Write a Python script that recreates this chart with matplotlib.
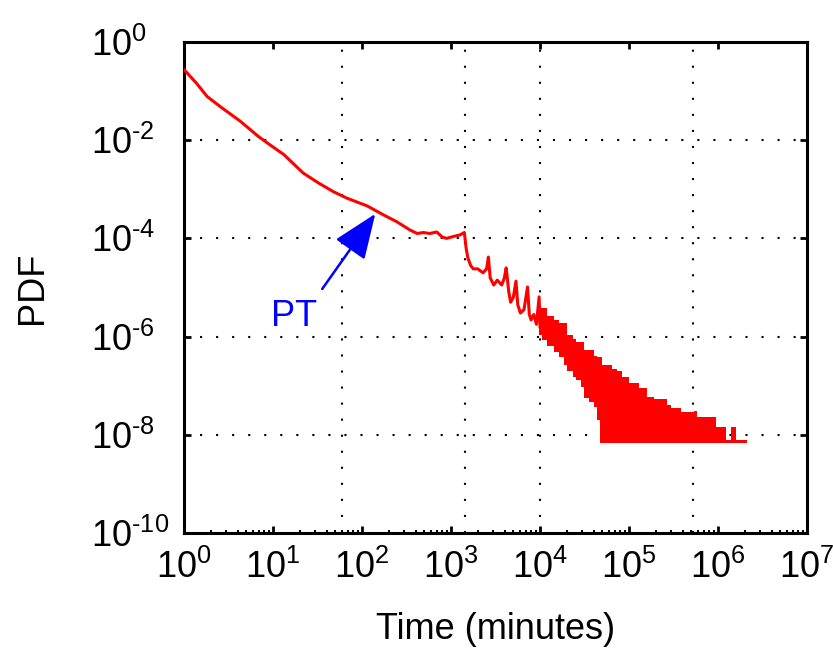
import numpy as np
import matplotlib
matplotlib.use("Agg")
import matplotlib.pyplot as plt
from matplotlib.ticker import FixedLocator, FuncFormatter, LogLocator, NullFormatter, NullLocator

plt.rcParams['font.family'] = ['Liberation Sans', 'DejaVu Sans']
plt.rcParams['mathtext.fontset'] = 'custom'
plt.rcParams['mathtext.rm'] = 'Liberation Sans'
plt.rcParams['mathtext.it'] = 'Liberation Sans'
plt.rcParams['mathtext.bf'] = 'Liberation Sans'

# ---- data (as log10 values) ----
line_log_t = [0.00, 0.02, 0.14, 0.26, 0.41, 0.63, 0.84, 0.97, 1.12, 1.34, 1.51, 1.68,
              1.83, 2.06, 2.24, 2.39, 2.54, 2.62, 2.69, 2.76, 2.84, 2.90, 2.95, 3.03,
              3.10, 3.15, 3.17, 3.19, 3.22, 3.25, 3.30, 3.36, 3.40, 3.42, 3.44, 3.48,
              3.52, 3.57, 3.60, 3.62, 3.65, 3.67, 3.70, 3.73, 3.75, 3.78, 3.82, 3.86,
              3.88, 3.90, 3.93, 3.96, 3.99, 4.00]
line_log_pdf = [-0.57, -0.60, -0.84, -1.11, -1.32, -1.61, -1.93, -2.10, -2.29, -2.67, -2.87, -3.05,
                -3.18, -3.34, -3.52, -3.66, -3.83, -3.90, -3.88, -3.90, -3.87, -3.97, -4.00, -3.96,
                -3.93, -3.88, -4.20, -4.40, -4.55, -4.62, -4.62, -4.70, -4.62, -4.38, -4.80, -4.95,
                -4.85, -4.95, -4.80, -4.60, -5.10, -5.30, -5.20, -4.87, -5.35, -5.52, -5.45, -4.99,
                -5.55, -5.66, -5.55, -5.75, -5.19, -5.80]

# dense tail: envelope of the oscillating curve
env_log_t = [3.986, 4.020, 4.080, 4.155, 4.211, 4.274, 4.305, 4.372, 4.409, 4.460,
             4.492, 4.550, 4.604, 4.642, 4.670, 4.698, 4.811, 4.867, 4.923, 4.998,
             5.110, 5.205, 5.279, 5.430, 5.467, 5.579, 5.729, 5.767, 5.973, 6.085,
             6.150, 6.198, 6.330]
env_log_upper = [-5.42, -5.42, -5.59, -5.66, -5.73, -5.72, -5.97, -6.04, -6.10, -6.10,
                 -6.27, -6.27, -6.40, -6.41, -6.41, -6.58, -6.65, -6.71, -6.82, -6.95,
                 -7.05, -7.22, -7.28, -7.39, -7.46, -7.53, -7.52, -7.63, -7.84, -8.11,
                 -7.84, -8.11, -8.11]
env_log_lower = [-5.97, -6.07, -6.20, -6.31, -6.41, -6.58, -6.71, -6.82, -6.88, -7.02,
                 -7.26, -7.33, -7.43, -7.70, -8.17, -8.17, -8.17, -8.17, -8.17, -8.17,
                 -8.17, -8.17, -8.17, -8.17, -8.17, -8.17, -8.17, -8.17, -8.17, -8.17,
                 -8.17, -8.17, -8.17]

grid_x = [60, 1440, 10080, 525600]          # hour, day, week, year (minutes)
grid_y = [1e-2, 1e-4, 1e-6, 1e-8]
x_ticks = [10.0 ** k for k in range(0, 8)]
y_ticks = [10.0 ** k for k in range(-10, 1, 2)]

arrow_tip = (141, 10 ** -3.50)
arrow_tail = (35.7, 10 ** -5.03)
label_pos = (17.3, 10 ** -5.78)
label_text = "PT"

# ---- figure ----
fig = plt.figure(figsize=(8.33, 6.54), dpi=100)
ax = fig.add_axes([184 / 833, 1 - 533 / 654, (807 - 184) / 833, (533 - 42) / 654])
ax.set_xscale('log')
ax.set_yscale('log')
ax.set_xlim(1, 1e7)
ax.set_ylim(1e-10, 1)

dot = (0, (1, 6.7))
for gx in grid_x:
    ax.axvline(gx, color='black', lw=1.5, linestyle=dot, dash_capstyle='butt', zorder=1)
for gy in grid_y:
    ax.axhline(gy, color='black', lw=1.5, linestyle=dot, dash_capstyle='butt', zorder=1)

ax.plot(10.0 ** np.array(line_log_t), 10.0 ** np.array(line_log_pdf), color='red', lw=2.2, zorder=3)
ax.fill_between(10.0 ** np.array(env_log_t), 10.0 ** np.array(env_log_lower),
                10.0 ** np.array(env_log_upper), step='post', color='red', lw=0, zorder=3)

ax.annotate('', xy=arrow_tip, xytext=arrow_tail,
            arrowprops=dict(arrowstyle='-|>,head_length=1.0,head_width=0.4', mutation_scale=28,
                            color='blue', lw=1.8, shrinkA=0, shrinkB=0), zorder=4)
ax.text(label_pos[0], label_pos[1], label_text, color='blue', fontsize=26,
        ha='center', va='baseline', zorder=4)


def fmt(v, pos):
    e = int(round(np.log10(v)))
    s = (r'\text{-}' + str(-e)) if e < 0 else str(e)
    return r'$\mathregular{10^{%s}}$' % s


ax.xaxis.set_major_locator(FixedLocator(x_ticks))
ax.xaxis.set_minor_locator(LogLocator(base=10, subs=np.arange(2, 10), numticks=20))
ax.xaxis.set_minor_formatter(NullFormatter())
ax.xaxis.set_major_formatter(FuncFormatter(fmt))
ax.yaxis.set_major_locator(FixedLocator(y_ticks))
ax.yaxis.set_minor_locator(NullLocator())
ax.yaxis.set_major_formatter(FuncFormatter(fmt))

ax.tick_params(which='major', direction='in', length=5, width=2, top=True, right=True,
               labelsize=26)
ax.tick_params(which='minor', direction='in', length=2.5, width=1.5, top=False, right=False)
ax.tick_params(axis='x', which='major', pad=12)
ax.tick_params(axis='y', which='major', pad=67)
for lbl in ax.get_yticklabels():
    lbl.set_horizontalalignment('left')

for sp in ax.spines.values():
    sp.set_linewidth(2.2)

ax.set_xlabel('Time (minutes)', fontsize=26, labelpad=19)
ax.set_ylabel('PDF', fontsize=26)
ax.yaxis.set_label_coords(-0.215, 0.5)

fig.savefig('out.png', dpi=100)
